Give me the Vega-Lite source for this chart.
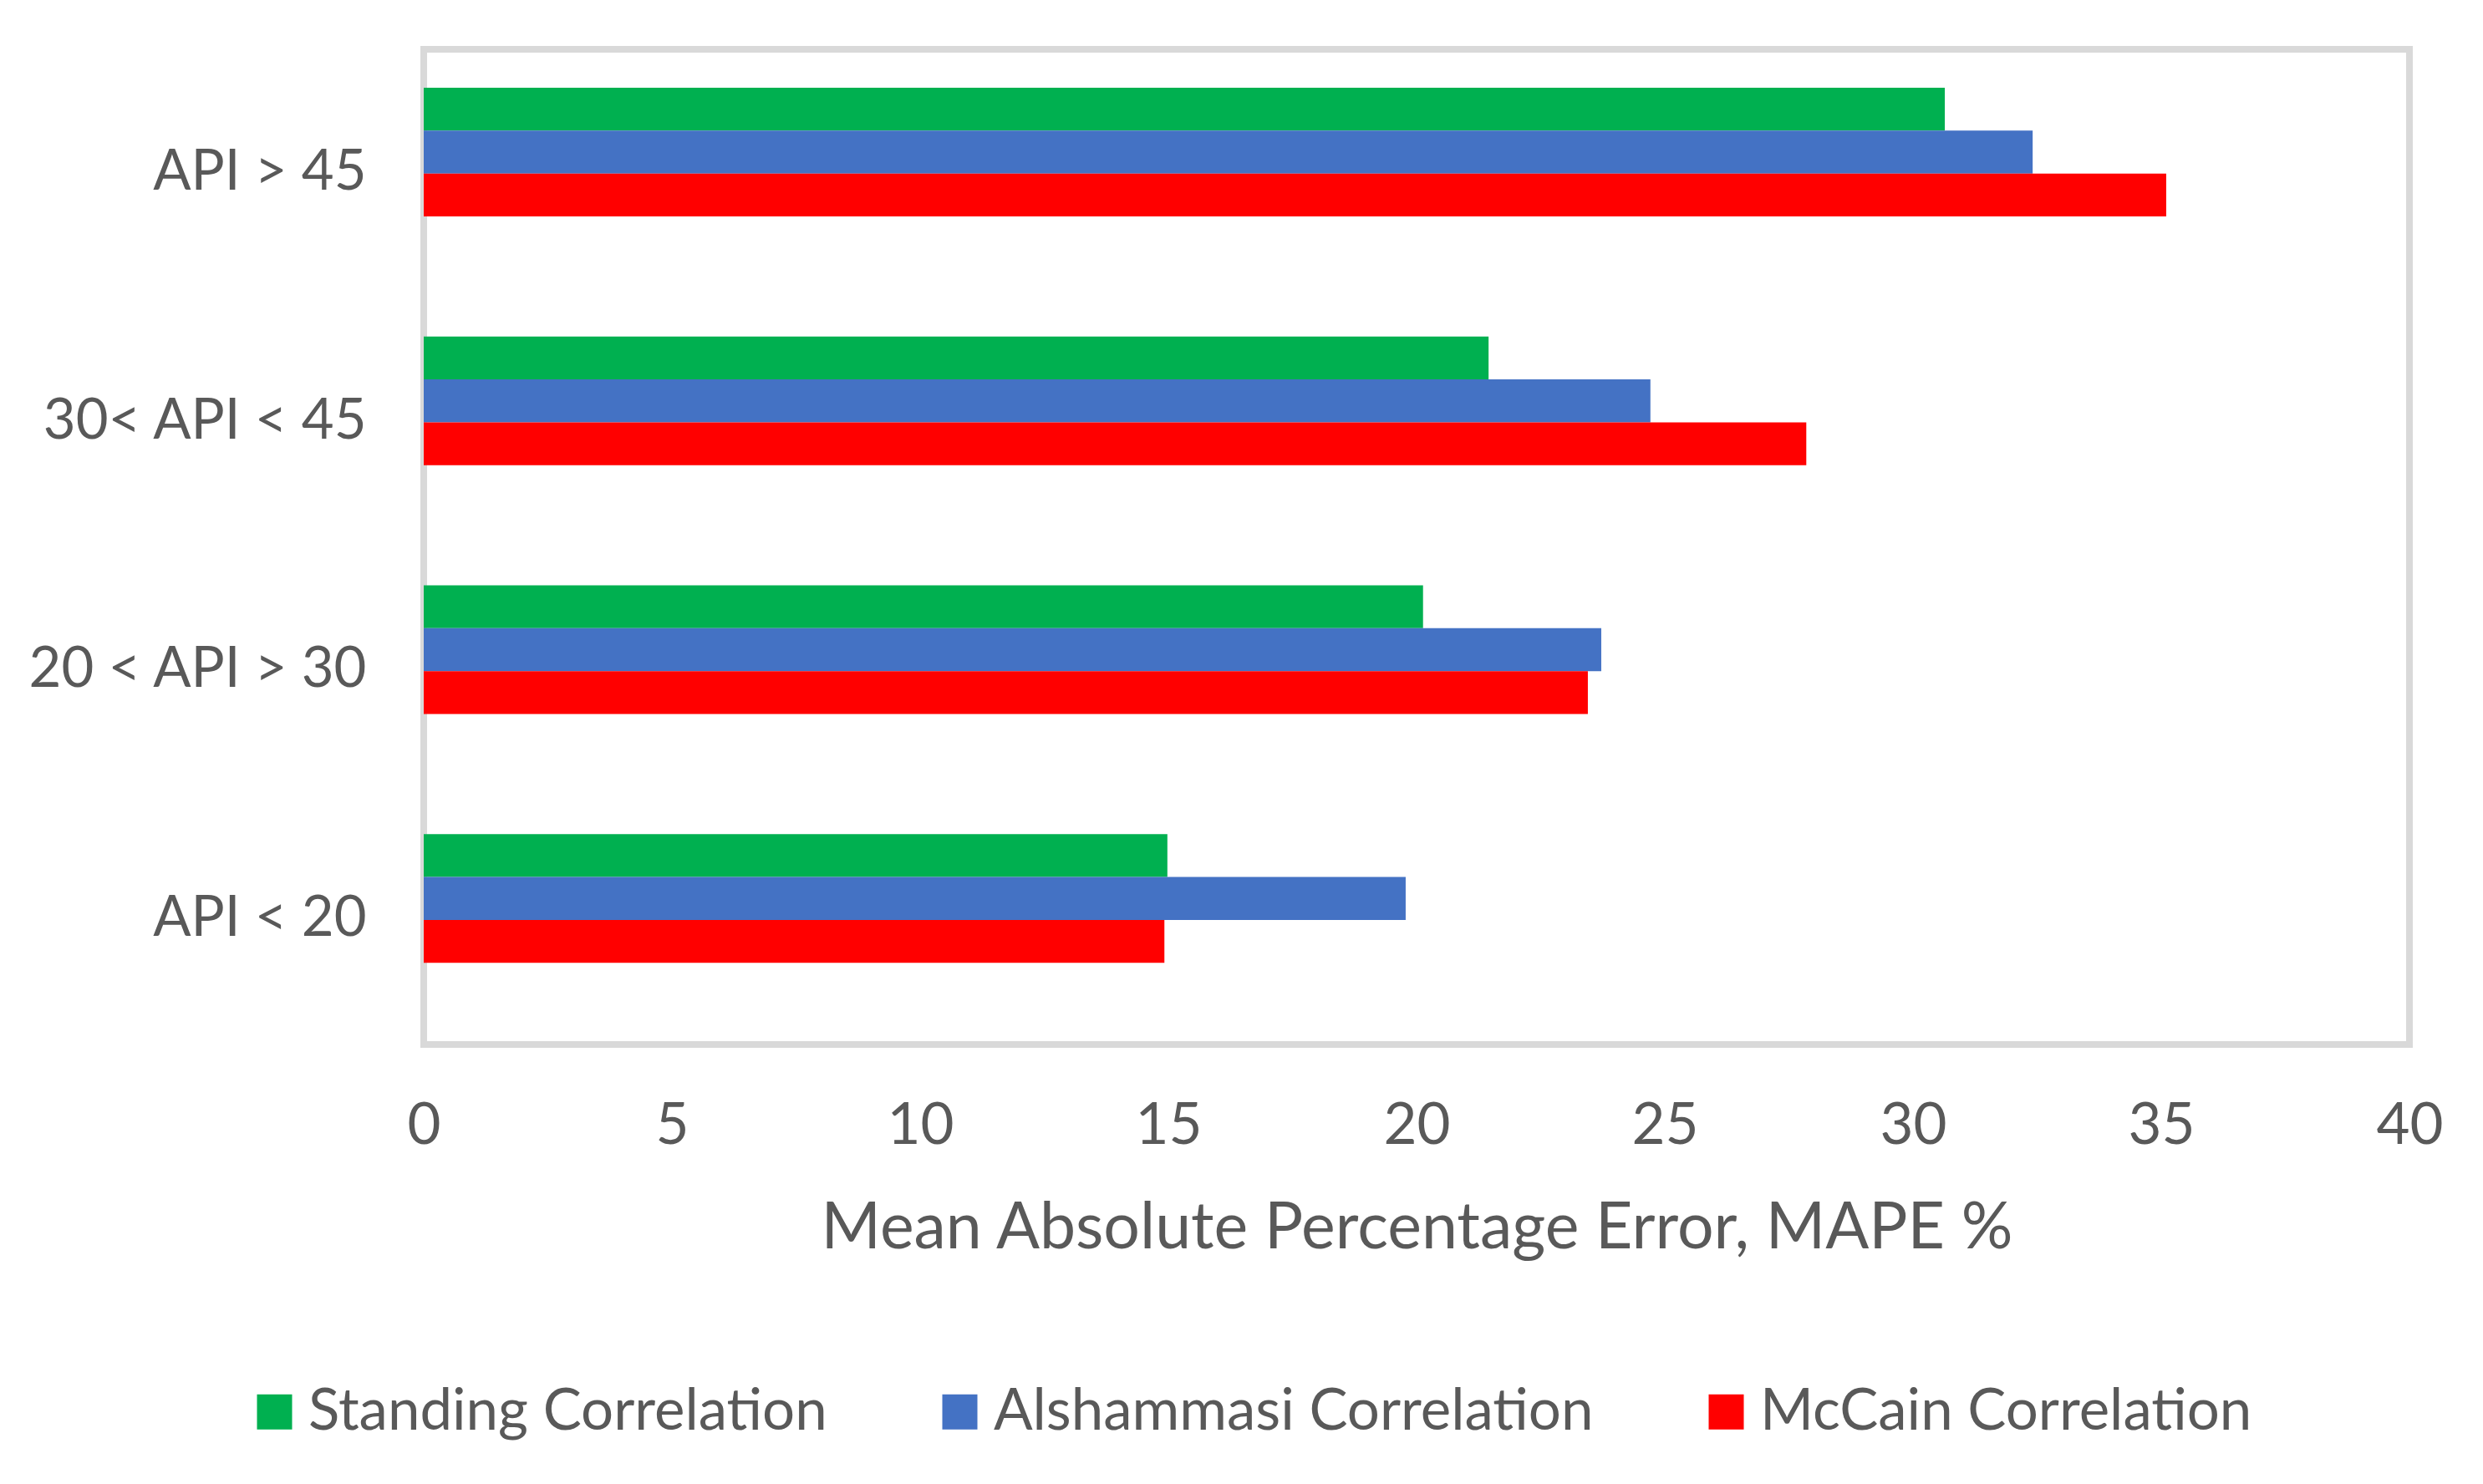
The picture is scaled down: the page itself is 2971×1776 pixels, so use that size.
{
  "$schema": "https://vega.github.io/schema/vega-lite/v6.json",
  "autosize": {"type": "none"},
  "width": 2376,
  "height": 1191,
  "padding": {"left": 507, "top": 59, "right": 88, "bottom": 526},
  "background": "white",
  "config": {
    "view": {"stroke": "#d9d9d9", "strokeWidth": 8},
    "font": "Lato",
    "axis": {"labelColor": "#595959", "titleColor": "#595959", "labelFont": "Lato", "titleFont": "Lato"},
    "legend": {"labelColor": "#595959", "labelFont": "Lato"}
  },
  "data": {
    "values": [
      {"category": "API > 45", "series": "Standing Correlation", "mape": 30.64},
      {"category": "API > 45", "series": "Alshammasi Correlation", "mape": 32.41},
      {"category": "API > 45", "series": "McCain Correlation", "mape": 35.10},
      {"category": "30< API < 45", "series": "Standing Correlation", "mape": 21.45},
      {"category": "30< API < 45", "series": "Alshammasi Correlation", "mape": 24.71},
      {"category": "30< API < 45", "series": "McCain Correlation", "mape": 27.85},
      {"category": "20 < API > 30", "series": "Standing Correlation", "mape": 20.13},
      {"category": "20 < API > 30", "series": "Alshammasi Correlation", "mape": 23.72},
      {"category": "20 < API > 30", "series": "McCain Correlation", "mape": 23.45},
      {"category": "API < 20", "series": "Standing Correlation", "mape": 14.98},
      {"category": "API < 20", "series": "Alshammasi Correlation", "mape": 19.78},
      {"category": "API < 20", "series": "McCain Correlation", "mape": 14.92}
    ]
  },
  "mark": {"type": "bar"},
  "encoding": {
    "y": {
      "field": "category",
      "type": "nominal",
      "sort": ["API > 45", "30< API < 45", "20 < API > 30", "API < 20"],
      "scale": {"paddingInner": 0.483, "paddingOuter": 0.2415, "align": 0.32},
      "axis": {
        "title": null,
        "domain": false,
        "ticks": false,
        "tickSize": 0,
        "labelPadding": 69,
        "labelOffset": 25,
        "labelFontSize": 67,
        "labelLimit": 2000,
        "labelFontWeight": "normal"
      }
    },
    "yOffset": {
      "field": "series",
      "type": "nominal",
      "sort": ["Standing Correlation", "Alshammasi Correlation", "McCain Correlation"],
      "scale": {"paddingInner": 0, "paddingOuter": 0}
    },
    "x": {
      "field": "mape",
      "type": "quantitative",
      "scale": {"domain": [0, 40], "nice": false, "zero": true},
      "axis": {
        "title": "Mean Absolute Percentage Error, MAPE %",
        "values": [0, 5, 10, 15, 20, 25, 30, 35, 40],
        "grid": false,
        "domain": false,
        "ticks": false,
        "tickSize": 0,
        "labelFlush": false,
        "labelPadding": 63,
        "labelFontSize": 69,
        "titleFontSize": 77,
        "titleFontWeight": "normal",
        "titlePadding": 50
      }
    },
    "color": {
      "field": "series",
      "type": "nominal",
      "sort": ["Standing Correlation", "Alshammasi Correlation", "McCain Correlation"],
      "scale": {
        "domain": ["Standing Correlation", "Alshammasi Correlation", "McCain Correlation"],
        "range": ["#00B050", "#4472C4", "#FF0000"]
      },
      "legend": {
        "title": null,
        "orient": "none",
        "direction": "horizontal",
        "legendX": -213,
        "legendY": 1596,
        "symbolType": "square",
        "symbolSize": 1764,
        "symbolStrokeWidth": 0,
        "symbolOpacity": 1,
        "labelFontSize": 69,
        "labelOffset": 6,
        "columnPadding": 124,
        "padding": 0,
        "labelLimit": 2000
      }
    }
  }
}
